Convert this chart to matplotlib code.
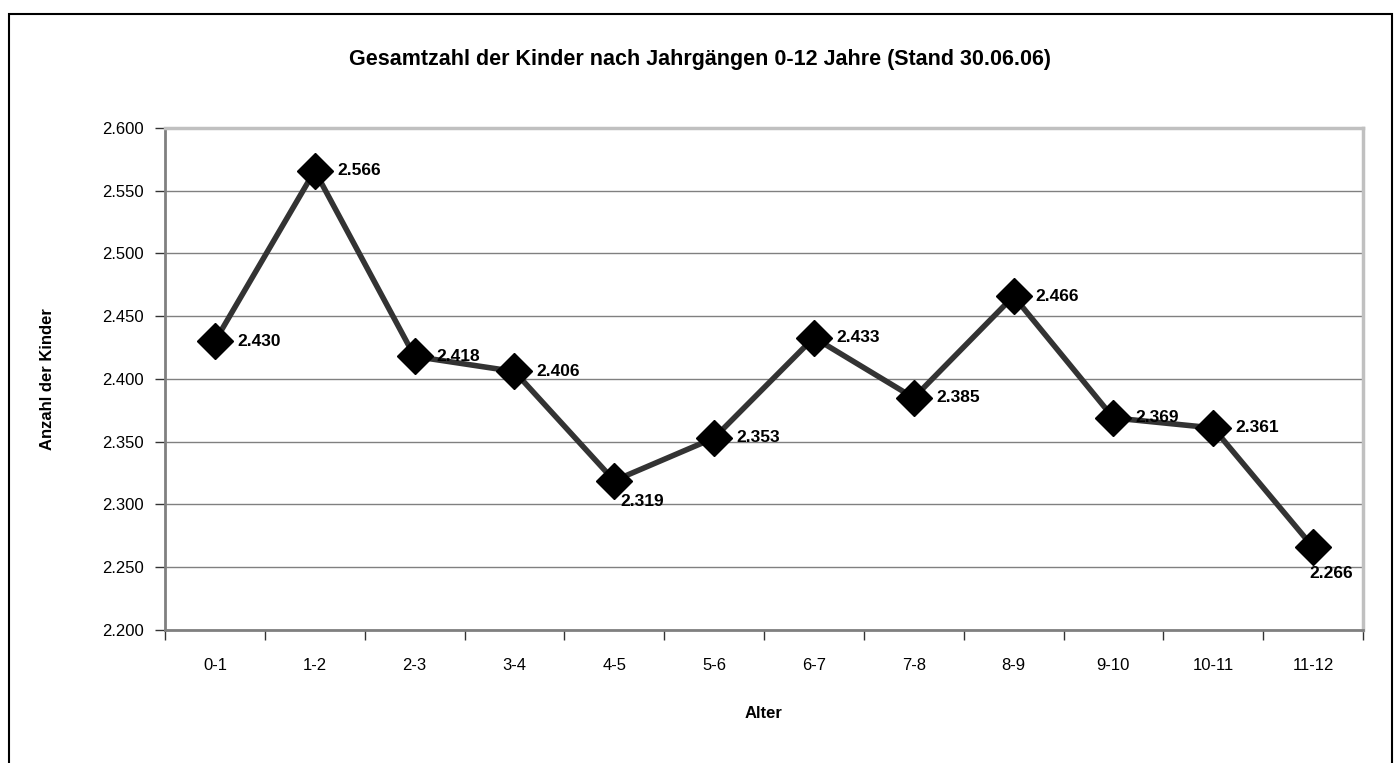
import matplotlib.pyplot as plt
import matplotlib.patches as patches
import numpy as np

plt.rcParams['font.family'] = ['Liberation Sans', 'DejaVu Sans']

alter = ["0-1", "1-2", "2-3", "3-4", "4-5", "5-6", "6-7", "7-8", "8-9", "9-10", "10-11", "11-12"]
anzahl = [2430, 2566, 2418, 2406, 2319, 2353, 2433, 2385, 2466, 2369, 2361, 2266]

# label offsets (points), Excel put two of them below the marker
versatz = [(16, 0)] * 12
versatz[4] = (20, -15)
versatz[11] = (13, -19)

def de(v):
    return "{:,}".format(int(v)).replace(",", ".")

fig = plt.figure(figsize=(13.94, 7.63), dpi=100)
W, H = 1394, 763
ax = fig.add_axes([165 / W, 1 - 630 / H, (1363 - 165) / W, (630 - 128) / H])

x = np.arange(len(alter))
ax.plot(x, anzahl, color='#333333', lw=4, zorder=3)
ax.plot(x, anzahl, ls='none', marker='D', ms=18, mfc='black', mec='black', zorder=4)

for xi, yi, (dx, dy) in zip(x, anzahl, versatz):
    ha = 'left' if dy > -10 else 'center'
    ax.annotate(de(yi), (xi, yi), xytext=(dx, dy), textcoords='offset points',
                ha=ha, va='center', fontsize=12.5, fontweight='bold')

ax.set_xlim(-0.5, len(alter) - 0.5)
ax.set_ylim(2200, 2600)
ax.set_yticks(np.arange(2200, 2601, 50))
ax.set_yticklabels([de(v) for v in np.arange(2200, 2601, 50)], fontsize=12)
ax.set_xticks(x)
ax.set_xticklabels(alter, fontsize=12)
ax.tick_params(axis='x', length=0, pad=20)
ax.set_xticks(np.arange(-0.5, len(alter)), minor=True)
ax.tick_params(axis='x', which='minor', length=7, width=1, color='#333333', direction='out')
ax.tick_params(axis='y', length=7, width=1, color='#333333', direction='out', pad=8)

ax.grid(axis='y', color='#808080', lw=1)
ax.set_axisbelow(True)
for s in ['top', 'right']:
    ax.spines[s].set_color('#c0c0c0')
    ax.spines[s].set_linewidth(2.5)
for s in ['left', 'bottom']:
    ax.spines[s].set_color('#808080')
    ax.spines[s].set_linewidth(2)

ax.set_xlabel("Alter", fontsize=12, fontweight='bold', labelpad=24)
ax.set_ylabel("Anzahl der Kinder", fontsize=12, fontweight='bold', labelpad=34)

fig.text(700 / W, 1 - 60 / H, "Gesamtzahl der Kinder nach Jahrgängen 0-12 Jahre (Stand 30.06.06)",
         ha='center', va='center', fontsize=15.5, fontweight='bold')

fig.patches.append(patches.Rectangle((9 / W, -0.1), (1392 - 9) / W, 1.1 - 14 / H,
                                     transform=fig.transFigure, fill=False,
                                     edgecolor='black', lw=1.5))

fig.savefig("out.png", dpi=100)
